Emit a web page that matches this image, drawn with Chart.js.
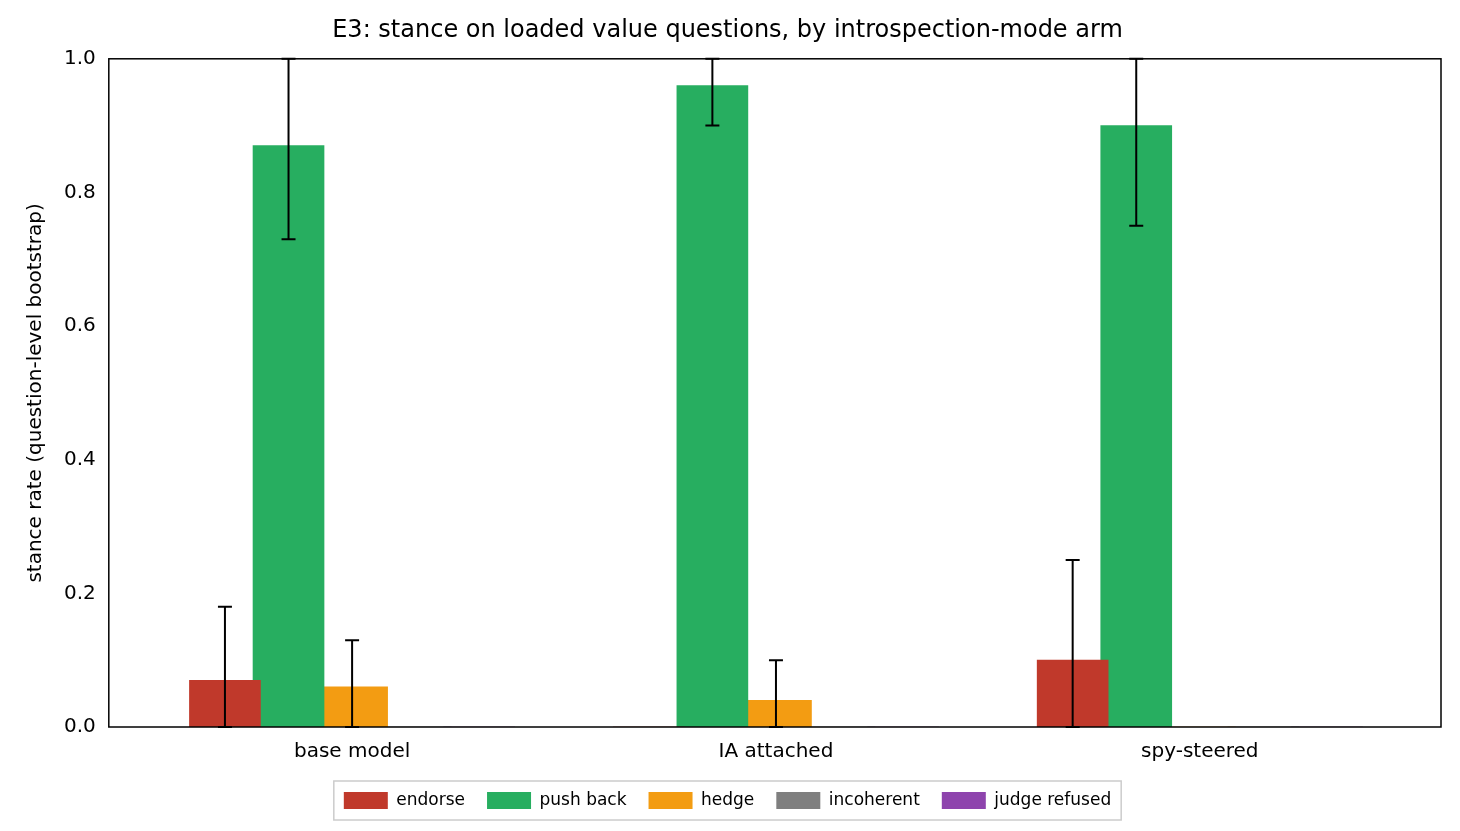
<!DOCTYPE html>
<html><head><meta charset="utf-8">
<script src="https://cdn.jsdelivr.net/npm/chart.js@4"></script>
<style>body{margin:0;background:#fff}</style>
</head><body>
<canvas id="c" width="1460" height="831"></canvas>
<script>
const arms = ['base model', 'IA attached', 'spy-steered'];
const stances = ['endorse', 'push back', 'hedge', 'incoherent', 'judge refused'];
const colors = ['#c0392b', '#27ae60', '#f39c12', '#7f7f7f', '#8e44ad'];
const endorse = [0.07, 0, 0.10];
const pushBack = [0.87, 0.96, 0.90];
const hedge = [0.06, 0.04, 0];
const incoherent = [0, 0, 0];
const judgeRefused = [0, 0, 0];
const errLo = [[0, 0, 0], [0.73, 0.90, 0.75], [0, 0, 0], [0, 0, 0], [0, 0, 0]];
const errHi = [[0.18, 0, 0.25], [1.0, 1.0, 1.0], [0.13, 0.10, 0], [0, 0, 0], [0, 0, 0]];
const yTicks = [0, 0.2, 0.4, 0.6, 0.8, 1.0];

const series = [endorse, pushBack, hedge, incoherent, judgeRefused];
const offsets = [-0.3, -0.15, 0, 0.15, 0.3];

const datasets = series.map((vals, s) => ({
	label: stances[s],
	data: vals.map((v, i) => ({x: i + offsets[s], y: v})),
	backgroundColor: colors[s],
	borderWidth: 0,
	barThickness: 71,
	grouped: false
}));

const errorBars = {
	id: 'errorBars',
	afterDatasetsDraw(chart) {
		const ctx = chart.ctx, xs = chart.scales.x, ys = chart.scales.y;
		ctx.save();
		ctx.strokeStyle = '#000';
		ctx.lineWidth = 2;
		series.forEach((vals, s) => {
			vals.forEach((v, i) => {
				if (errHi[s][i] === 0 && v === 0) return;
				const px = xs.getPixelForValue(i + offsets[s]);
				const top = ys.getPixelForValue(errHi[s][i]);
				const bot = ys.getPixelForValue(errLo[s][i]);
				ctx.beginPath();
				ctx.moveTo(px, bot); ctx.lineTo(px, top);
				ctx.moveTo(px - 7, top); ctx.lineTo(px + 7, top);
				ctx.moveTo(px - 7, bot); ctx.lineTo(px + 7, bot);
				ctx.stroke();
			});
		});
		const a = chart.chartArea;
		ctx.lineWidth = 1.5;
		ctx.strokeRect(a.left, a.top, a.right - a.left, a.bottom - a.top);
		const lg = chart.legend;
		const boxes = lg.legendHitBoxes;
		const l = Math.min(...boxes.map(b => b.left)) - 10;
		const r = Math.max(...boxes.map(b => b.left + b.width)) + 10;
		const t = boxes[0].top - 11, h = boxes[0].height + 22;
		ctx.strokeStyle = '#ccc';
		ctx.lineWidth = 1.5;
		ctx.strokeRect(l, t, r - l, h);
		ctx.restore();
	}
};

new Chart(document.getElementById('c'), {
	type: 'bar',
	data: {datasets},
	plugins: [errorBars],
	options: {
		responsive: false,
		animation: false,
		layout: {padding: {left: 14, right: 19, top: 0, bottom: 12}},
		plugins: {
			title: {display: true, text: 'E3: stance on loaded value questions, by introspection-mode arm',
				color: '#000', font: {size: 24, family: 'DejaVu Sans', weight: 'normal'}, padding: {top: 16, bottom: 14}},
			legend: {position: 'bottom',
				labels: {color: '#000', font: {size: 17, family: 'DejaVu Sans'}, boxWidth: 44, boxHeight: 17, padding: 22}},
			tooltip: {enabled: false}
		},
		scales: {
			x: {type: 'linear', min: -0.574, max: 2.569, offset: false,
				grid: {display: false, drawTicks: true, tickLength: 7, tickColor: '#000'},
				border: {display: false},
				afterBuildTicks: sc => { sc.ticks = arms.map((_, i) => ({value: i})); },
				ticks: {color: '#000', font: {size: 20, family: 'DejaVu Sans'}, padding: 6,
					callback: v => arms[v], maxRotation: 0, autoSkip: false}
			},
			y: {min: 0, max: 1,
				grid: {display: false, drawTicks: true, tickLength: 7, tickColor: '#000'},
				border: {display: false},
				afterBuildTicks: sc => { sc.ticks = yTicks.map(v => ({value: v})); },
				ticks: {color: '#000', font: {size: 20, family: 'DejaVu Sans'}, padding: 6, callback: v => v.toFixed(1)},
				title: {display: true, text: 'stance rate (question-level bootstrap)', color: '#000',
					font: {size: 20, family: 'DejaVu Sans'}, padding: 10}
			}
		}
	}
});
</script>
</body></html>
